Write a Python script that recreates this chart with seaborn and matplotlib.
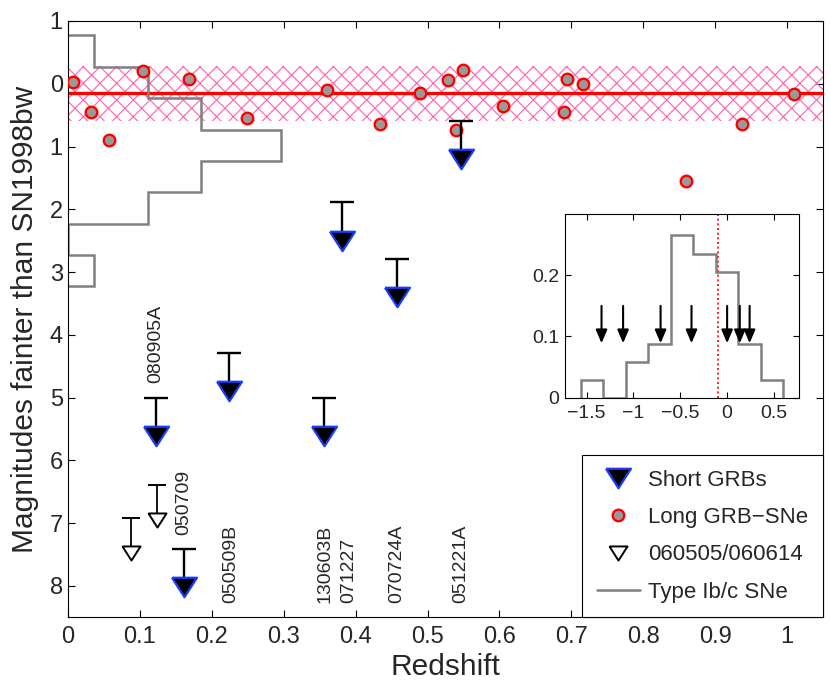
import numpy as np
import pandas as pd
import matplotlib
matplotlib.use("Agg")
import matplotlib.pyplot as plt
import seaborn as sns
from matplotlib.lines import Line2D

# ---------------- data ----------------
# Long GRB-SNe: redshift and magnitude offset relative to SN1998bw
lgrb_z = [0.007, 0.032, 0.058, 0.104, 0.168, 0.249, 0.360, 0.434, 0.489, 0.529,
          0.549, 0.539, 0.605, 0.694, 0.689, 0.716, 0.859, 0.937, 1.010]
lgrb_dm = [-0.02, 0.45, 0.89, -0.21, -0.07, 0.55, 0.10, 0.64, 0.14, -0.06,
           -0.22, 0.73, 0.35, -0.07, 0.45, 0.00, 1.55, 0.64, 0.16]

# Short GRBs: redshift and upper-limit magnitude
sgrb_names = ["080905A", "050709", "050509B", "130603B", "071227", "070724A", "051221A"]
sgrb_z = [0.122, 0.161, 0.224, 0.356, 0.381, 0.457, 0.546]
sgrb_lim = [5.00, 7.41, 4.29, 5.00, 1.89, 2.79, 0.59]

# 060505 / 060614
nosn_z = [0.088, 0.124]
nosn_lim = [6.92, 6.40]

# Long GRB-SN mean and 1-sigma band
lgrb_mean = 0.155
lgrb_sigma = 0.445

# Type Ib/c SNe distribution (fraction per 0.5 mag bin)
ibc_edges = [-0.77, -0.27, 0.23, 0.73, 1.23, 1.73, 2.23, 2.73, 3.23]
ibc_frac = [0.036, 0.111, 0.185, 0.296, 0.185, 0.111, 0.0, 0.036]

# inset: distribution and arrows
inset_edges = [-1.56, -1.32, -1.08, -0.84, -0.60, -0.36, -0.12, 0.12, 0.36, 0.60]
inset_frac = [0.029, 0.0, 0.059, 0.088, 0.265, 0.235, 0.206, 0.088, 0.029]
inset_arrows = [-1.34, -1.11, -0.71, -0.38, 0.00, 0.135, 0.24]
inset_ref = -0.10

x_ticks = [0, 0.1, 0.2, 0.3, 0.4, 0.5, 0.6, 0.7, 0.8, 0.9, 1.0]
x_ticklabels = ["0", "0.1", "0.2", "0.3", "0.4", "0.5", "0.6", "0.7", "0.8", "0.9", "1"]
y_ticks = [-1, 0, 1, 2, 3, 4, 5, 6, 7, 8]
y_ticklabels = ["1", "0", "1", "2", "3", "4", "5", "6", "7", "8"]
in_x_ticks = [-1.5, -1, -0.5, 0, 0.5]
in_x_ticklabels = ["\u22121.5", "\u22121", "\u22120.5", "0", "0.5"]
in_y_ticks = [0, 0.1, 0.2]
in_y_ticklabels = ["0", "0.1", "0.2"]

# ---------------- layout / style ----------------
label_x = [0.122, 0.161, 0.226, 0.358, 0.391, 0.457, 0.546]
label_y = [4.77, 7.19, 8.28, 8.28, 8.28, 8.28, 8.28]
arrow_off = 0.61
nosn_off = 0.55

sns.set_style("ticks")
plt.rcParams["font.family"] = ["Liberation Sans", "DejaVu Sans"]
plt.rcParams["hatch.linewidth"] = 0.9
plt.rcParams["axes.linewidth"] = 0.8

BLUE = "#1a3cff"
GRAY = "#808080"
PINK = "#ff6eb4"

tri = [(-1, 0.78), (1, 0.78), (0, -0.78), (-1, 0.78)]

fig = plt.figure(figsize=(8.3, 6.9), dpi=100)
ax = fig.add_axes([0.0816, 0.1054, 0.9103, 0.8642])

# band and mean
ax.axhspan(lgrb_mean - lgrb_sigma, lgrb_mean + lgrb_sigma, facecolor="none",
           edgecolor=PINK, hatch="xx", linewidth=0, zorder=1)
ax.axhline(lgrb_mean, color="red", lw=2.4, zorder=2)

# Ib/c histogram
ax.stairs(ibc_frac, ibc_edges, orientation="horizontal", baseline=0,
          color=GRAY, lw=1.8, zorder=2)

# Long GRB-SNe
df_l = pd.DataFrame({"z": lgrb_z, "dm": lgrb_dm})
sns.scatterplot(data=df_l, x="z", y="dm", ax=ax, s=69, color="#999999",
                edgecolor="red", linewidth=1.7, zorder=4, legend=False)

# Short GRBs
sg_arrow = [v + arrow_off for v in sgrb_lim]
ax.vlines(sgrb_z, sgrb_lim, sg_arrow, color="black", lw=1.7, zorder=5)
ax.plot(sgrb_z, sgrb_lim, ls="none", marker="_", ms=17, mew=1.7, color="black", zorder=5)
df_s = pd.DataFrame({"z": sgrb_z, "m": sg_arrow})
sns.scatterplot(data=df_s, x="z", y="m", ax=ax, marker=tri, s=324, color="black",
                edgecolor=BLUE, linewidth=1.6, zorder=6, legend=False)

# 060505 / 060614
ns_arrow = [v + nosn_off for v in nosn_lim]
ax.vlines(nosn_z, nosn_lim, ns_arrow, color="black", lw=1.3, zorder=5)
ax.plot(nosn_z, nosn_lim, ls="none", marker="_", ms=12.5, mew=1.4, color="black", zorder=5)
df_n = pd.DataFrame({"z": nosn_z, "m": ns_arrow})
sns.scatterplot(data=df_n, x="z", y="m", ax=ax, marker=tri, s=169, color="white",
                edgecolor="black", linewidth=1.4, zorder=6, legend=False)

# labels
for name, lx, ly in zip(sgrb_names, label_x, label_y):
    ax.text(lx, ly, name, rotation=90, ha="center", va="bottom", fontsize=14, zorder=7)

ax.set_xlim(0, 1.05)
ax.set_ylim(8.5, -1)
ax.set_xticks(x_ticks)
ax.set_xticklabels(x_ticklabels)
ax.set_yticks(y_ticks)
ax.set_yticklabels(y_ticklabels)
ax.tick_params(direction="in", top=True, right=True, length=5, width=0.8,
               labelsize=17, color="black")
ax.tick_params(axis="x", pad=6)
ax.tick_params(axis="y", pad=3.5)
for sp in ax.spines.values():
    sp.set_visible(True)
    sp.set_color("black")
    sp.set_linewidth(0.8)
ax.set_xlabel("Redshift", fontsize=21.5, labelpad=4)
ax.set_ylabel("Magnitudes fainter than SN1998bw", fontsize=21.5, labelpad=8)

handles = [
    Line2D([], [], ls="none", marker=tri, ms=18, mfc="black", mec=BLUE, mew=1.6),
    Line2D([], [], ls="none", marker="o", ms=8.3, mfc="#999999", mec="red", mew=1.7),
    Line2D([], [], ls="none", marker=tri, ms=13, mfc="white", mec="black", mew=1.4),
    Line2D([], [], color=GRAY, lw=1.8),
]
labels = ["Short GRBs", "Long GRB\u2212SNe", "060505/060614", "Type Ib/c SNe"]
leg = ax.legend(handles, labels, loc="lower right", bbox_to_anchor=(1, 0),
                borderaxespad=0, fontsize=16, frameon=True, fancybox=False,
                framealpha=1, edgecolor="black", borderpad=0.66,
                handlelength=1.92, handletextpad=0.39, labelspacing=0.73)
leg.get_frame().set_linewidth(0.8)
leg.set_zorder(10)

# ---------------- inset ----------------
ins = fig.add_axes([0.6807, 0.4236, 0.2823, 0.2662])
ins.stairs(inset_frac, inset_edges, baseline=0, color=GRAY, lw=1.8, zorder=2)
ins.axvline(inset_ref, color="red", ls=(0, (1.2, 1.6)), lw=1.2, zorder=1)
for xa in inset_arrows:
    ins.annotate("", xy=(xa, 0.089), xytext=(xa, 0.15),
                 arrowprops=dict(arrowstyle="-|>,head_length=0.8,head_width=0.34",
                                 mutation_scale=10, color="black", lw=1.5,
                                 shrinkA=0, shrinkB=0), zorder=3)
ins.set_xlim(-1.73, 0.77)
ins.set_ylim(0, 0.3)
ins.set_xticks(in_x_ticks)
ins.set_xticklabels(in_x_ticklabels)
ins.set_yticks(in_y_ticks)
ins.set_yticklabels(in_y_ticklabels)
ins.tick_params(direction="in", top=True, right=True, length=4, width=0.8,
                labelsize=14, color="black")
ins.tick_params(axis="x", pad=5)
ins.tick_params(axis="y", pad=4)
for sp in ins.spines.values():
    sp.set_visible(True)
    sp.set_color("black")
    sp.set_linewidth(0.8)

fig.savefig("out.png", dpi=100)
